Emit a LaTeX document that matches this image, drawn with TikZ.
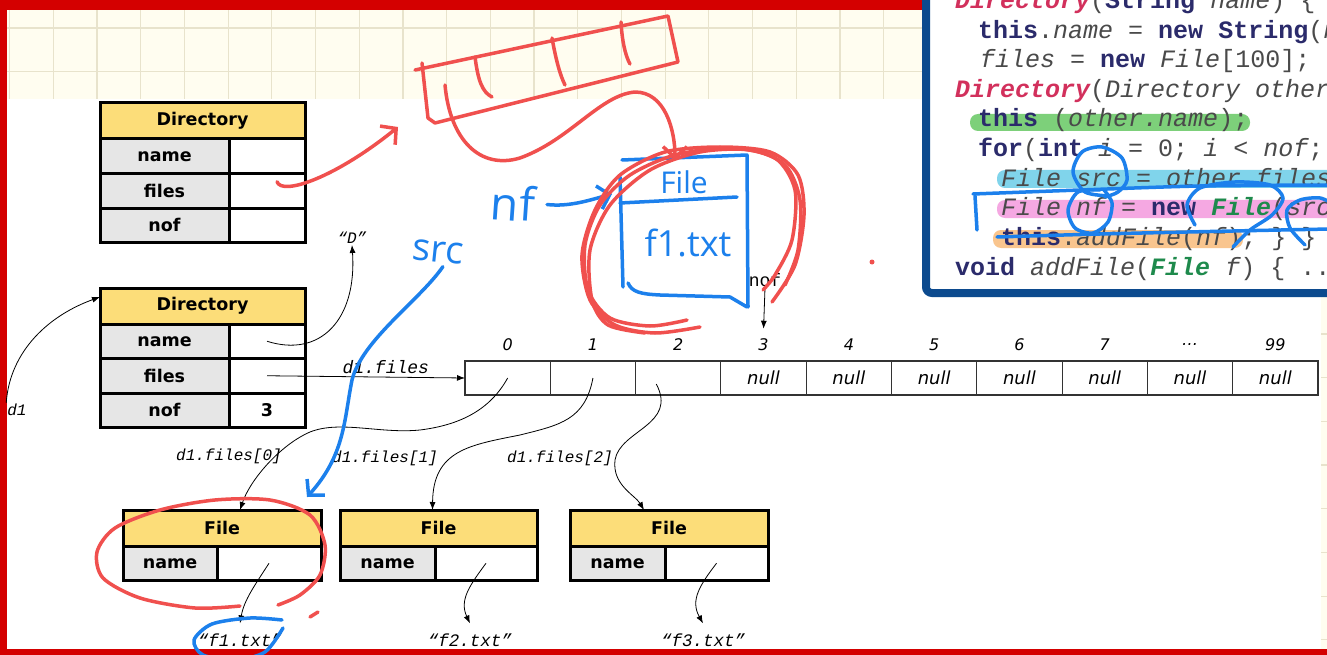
\documentclass[tikz,border=0pt]{standalone}
\usepackage{fontspec}
\setmainfont{DejaVu Sans}
\setmonofont{Liberation Mono}
\newfontfamily\handfont{Open Sans}
\usepackage{tikz}
\usetikzlibrary{arrows.meta,positioning}

\definecolor{frame}{HTML}{D40000}
\definecolor{paper}{HTML}{FFFDF0}
\definecolor{gridline}{HTML}{E8E3CC}
\definecolor{head}{HTML}{FCDD79}
\definecolor{field}{HTML}{E6E6E6}
\definecolor{inkred}{HTML}{F0504E}
\definecolor{inkblue}{HTML}{1C80EC}
\definecolor{panel}{HTML}{0C4A8E}
\definecolor{kwcol}{HTML}{2B2B6B}
\definecolor{ctorcol}{HTML}{D2305C}
\definecolor{typecol}{HTML}{1E8A4C}
\definecolor{varcol}{HTML}{4A4A4A}
\definecolor{hlgreen}{HTML}{7DD07A}
\definecolor{hlblue}{HTML}{80D4EB}
\definecolor{hlpink}{HTML}{F5A8E2}
\definecolor{hlorange}{HTML}{F9C58E}

\newcommand{\codekw}[1]{\textcolor{kwcol}{\bfseries #1}}
\newcommand{\codector}[1]{\textcolor{ctorcol}{\bfseries\itshape #1}}
\newcommand{\codetype}[1]{\textcolor{typecol}{\bfseries\itshape #1}}
\newcommand{\codevar}[1]{\textcolor{varcol}{\itshape #1}}

\begin{document}
\begin{tikzpicture}[
  x=1pt, y=-1pt,
  hdr/.style={draw, line width=3pt, fill=head, outer sep=0pt, inner sep=0pt, minimum height=36pt, font=\bfseries\fontsize{17.5}{18}\selectfont},
  fld/.style={draw, line width=3pt, fill=field, outer sep=0pt, inner sep=0pt, minimum height=34.5pt, font=\bfseries\fontsize{17.5}{18}\selectfont},
  val/.style={fld, fill=white},
  slot/.style={draw=black!80, line width=1.1pt, outer sep=0pt, inner sep=0pt, minimum width=85.3pt, minimum height=34pt, font=\itshape\fontsize{18}{18}\selectfont},
  idx/.style={font=\itshape\fontsize{16}{16}\selectfont, inner sep=1pt},
  lbl/.style={font=\ttfamily\itshape\fontsize{16}{16}\selectfont, inner sep=1pt},
  ptr/.style={-{Latex[length=8pt,width=6pt]}, line width=0.8pt},
  redink/.style={draw=inkred, line width=3.5pt, line cap=round, line join=round},
  blueink/.style={draw=inkblue, line width=3.5pt, line cap=round, line join=round},
  barb/.style={-{Straight Barb[length=11pt,width=24pt,line width=3.5pt]}},
  hand/.style={text=inkblue, inner sep=0pt, font=\handfont},
  codeline/.style={anchor=base west, inner sep=0pt, text=varcol, font=\ttfamily\fontsize{25}{25}\selectfont}
]
\clip (0,0) rectangle (1327,655);

% paper, grid and frame
\fill[paper] (0,0) rectangle (1327,655);
\foreach \gx in {9.6,53.3,...,1327} \draw[gridline, line width=1.2pt] (\gx,0) -- (\gx,655);
\foreach \gy in {28,71.7,...,655} \draw[gridline, line width=1.2pt] (0,\gy) -- (1327,\gy);
\fill[white] (7,99) rectangle (1321,649);
\fill[frame] (0,0) rectangle (1327,10);
\fill[frame] (0,0) rectangle (7,655);
\fill[frame] (0,649) rectangle (1327,655);

% directory objects
\node[hdr, minimum width=205pt] (dirA) at (202.5,121) {Directory};
\node[fld, minimum width=129pt, below right=0pt and 0pt of dirA.south west] (dirAname) {name};
\node[val, minimum width=76pt, right=0pt of dirAname] (dirAnameV) {};
\node[fld, minimum width=129pt, below=0pt of dirAname] (dirAfiles) {files};
\node[val, minimum width=76pt, right=0pt of dirAfiles] (dirAfilesV) {};
\node[fld, minimum width=129pt, below=0pt of dirAfiles] (dirAnof) {nof};
\node[val, minimum width=76pt, right=0pt of dirAnof] (dirAnofV) {};

\node[hdr, minimum width=205pt] (dirB) at (202.5,306) {Directory};
\node[fld, minimum width=129pt, below right=0pt and 0pt of dirB.south west] (dirBname) {name};
\node[val, minimum width=76pt, right=0pt of dirBname] (dirBnameV) {};
\node[fld, minimum width=129pt, below=0pt of dirBname] (dirBfiles) {files};
\node[val, minimum width=76pt, right=0pt of dirBfiles] (dirBfilesV) {};
\node[fld, minimum width=129pt, below=0pt of dirBfiles] (dirBnof) {nof};
\node[val, minimum width=76pt, right=0pt of dirBnof] (dirBnofV) {3};

% the files array
\foreach \i/\t in {0/0,1/1,2/2,3/3,4/4,5/5,6/6,7/7,8/…,9/99} {
  \node[slot] (cell\i) at ({507.65+85.3*\i},378) {};
  \node[idx] (idx\i) at ({507.65+85.3*\i},345) {\t};
}
\foreach \i in {3,...,9} \node[font=\itshape\fontsize{18}{18}\selectfont] (null\i) at (cell\i) {null};

% file objects
\node[hdr, minimum width=198pt] (fileA) at (222,528) {File};
\node[fld, minimum width=94pt, below right=0pt and 0pt of fileA.south west] (fileAname) {name};
\node[val, minimum width=104pt, right=0pt of fileAname] (fileAnameV) {};
\node[hdr, minimum width=197pt] (fileB) at (438.5,528) {File};
\node[fld, minimum width=95pt, below right=0pt and 0pt of fileB.south west] (fileBname) {name};
\node[val, minimum width=102pt, right=0pt of fileBname] (fileBnameV) {};
\node[hdr, minimum width=198pt] (fileC) at (669,528) {File};
\node[fld, minimum width=95pt, below right=0pt and 0pt of fileC.south west] (fileCname) {name};
\node[val, minimum width=103pt, right=0pt of fileCname] (fileCnameV) {};

\node[lbl] (dref) at (17,410) {d1};
\node[lbl] (dstr) at (352,238) {“D”};
\node[font=\ttfamily\fontsize{18}{18}\selectfont, inner sep=1pt] (nofref) at (765,280) {nof};
\node[lbl] (ref0) at (229,456) {d1.files[0]};
\node[lbl] (ref1) at (385,458) {d1.files[1]};
\node[lbl] (ref2) at (560,458) {d1.files[2]};
\node[lbl, font=\ttfamily\itshape\fontsize{17.5}{18}\selectfont] (strA) at (240,640) {“f1.txt”};
\node[lbl, font=\ttfamily\itshape\fontsize{17.5}{18}\selectfont] (strB) at (470,640) {“f2.txt”};
\node[lbl, font=\ttfamily\itshape\fontsize{17.5}{18}\selectfont] (strC) at (703,640) {“f3.txt”};

\draw[ptr] (dref.north west) .. controls (10,350) and (50,315) .. ([yshift=-9pt]dirB.north west);
\draw[ptr] (dirBnameV.center) .. controls (320,358) and (357,320) .. (dstr.south);
\draw[ptr] (dirBfilesV.center) -- node[pos=0.6, above, font=\ttfamily\itshape\fontsize{18}{18}\selectfont] {d1.files} (cell0.west);
\draw[ptr] (nofref.south) -- ([yshift=9pt]idx3.north);
\draw[ptr] (cell0.center) .. controls (490,410) and (460,425) .. (420,430) .. controls (380,434) and (340,420) .. (310,432) .. controls (280,445) and (250,480) .. ([xshift=18pt]fileA.north);
\draw[ptr] (cell1.center) .. controls (585,420) and (560,425) .. (520,435) .. controls (470,445) and (433,450) .. ([xshift=-6pt]fileB.north);
\draw[ptr] ([xshift=-22pt,yshift=-6pt]cell2.center) .. controls (678,425) and (620,430) .. (615,460) .. controls (612,485) and (635,495) .. ([xshift=-25pt]fileC.north);
\draw[ptr] (fileAnameV.center) .. controls (255,585) and (244,600) .. ([yshift=9pt]strA.north);
\draw[ptr] (fileBnameV.center) .. controls (470,585) and (459,600) .. ([yshift=9pt]strB.north);
\draw[ptr] (fileCnameV.center) .. controls (700,585) and (690,600) .. ([yshift=9pt]strC.north);

% code panel
\draw[draw=panel, fill=white, line width=8pt, rounded corners=6pt] (926,-30) rectangle (1360,293);
\fill[hlgreen, rounded corners=8pt] (970,114) rectangle (1250,131);
\fill[hlblue, rounded corners=8pt] (997,170) rectangle (1345,188);
\fill[hlpink, rounded corners=8pt] (997,200) rectangle (1345,218);
\fill[hlorange, rounded corners=8pt] (993,230) rectangle (1243,248);
\node[codeline] (ln1) at (955,9) {\codector{Directory}(\codekw{String} \codevar{name}) \{};
\node[codeline] (ln2) at (978,38.5) {\codekw{this}.\codevar{name} = \codekw{new} \codekw{String}(\codevar{name});};
\node[codeline] (ln3) at (980,68) {\codevar{files} = \codekw{new} \codevar{File}[100]; \}};
\node[codeline] (ln4) at (955,97.5) {\codector{Directory}(\codevar{Directory other}) \{};
\node[codeline] (ln5) at (978,127) {\codekw{this} (\codevar{other.name});};
\node[codeline] (ln6) at (978,156.5) {\codekw{for}(\codekw{int} \codevar{i} = 0; \codevar{i} < \codevar{nof}; \codevar{i}++) \{};
\node[codeline] (ln7) at (1001,186) {\codevar{File src} = \codevar{other.files}[\codevar{i}];};
\node[codeline] (ln8) at (1001,215.5) {\codevar{File nf} = \codekw{new} \codetype{File}(\codevar{src});};
\node[codeline] (ln9) at (1001,245) {\codekw{this}.\codevar{addFile}(\codevar{nf}); \} \}};
\node[codeline] (ln10) at (955,275) {\codekw{void} \codevar{addFile}(\codetype{File} \codevar{f}) \{ ...};

% blue pen
\draw[blueink] plot[smooth] coordinates {(1110,196) (1085,192) (1073,172) (1082,152) (1102,147) (1122,158) (1127,180) (1118,192) (1105,197)};
\draw[blueink] plot[smooth] coordinates {(1100,190) (1078,192) (1068,210) (1075,228) (1093,233) (1108,222) (1112,203) (1104,190)};
\draw[blueink] plot[smooth] coordinates {(1195,225) (1187,205) (1200,188) (1235,182) (1270,185) (1283,198) (1272,215) (1250,230) (1233,247)};
\draw[blueink] plot[smooth] coordinates {(1305,245) (1290,228) (1287,210) (1300,200) (1320,198) (1335,205)};
\draw[blueink] plot[smooth] coordinates {(973,194) (1080,190) (1200,186) (1330,185)};
\draw[blueink] (975,196) -- (977,230);
\draw[blueink] plot[smooth] coordinates {(997,237) (1100,234) (1233,231) (1330,229)};

\node[hand, rotate=-6, font=\handfont\fontsize{38}{38}\selectfont] (srchand) at (438,252) {src};
\node[hand, rotate=-4, font=\handfont\fontsize{46}{46}\selectfont] (nfhand) at (513,203) {nf};
\node[hand, font=\handfont\fontsize{30}{30}\selectfont] (filehand) at (684,182) {File};
\node[hand, font=\handfont\fontsize{36}{36}\selectfont] (namehand) at (688,243) {f1.txt};
\draw[blueink] (620,177) -- (623,287);
\draw[blueink] (622,160) -- (747,155) -- (748,307);
\draw[blueink] (628,283) .. controls (632,292) and (640,294) .. (660,295) -- (730,297) -- (747,307);
\draw[blueink] (620,203) -- (737,197);
\draw[blueink, barb] ([xshift=12pt]nfhand.east) .. controls (570,207) and (590,200) .. (612,194);
\draw[blueink, barb] ([xshift=6pt,yshift=-4pt]srchand.south) .. controls (420,300) and (362,340) .. (352,380) .. controls (344,420) and (345,455) .. (307,497);
\draw[blueink] plot[smooth] coordinates {(282,620) (250,618) (212,624) (194,640) (203,655) (235,660) (265,652) (283,628)};

% red pen
\draw[redink, barb] ([shift={(10pt,9pt)}]dirAfilesV.center) .. controls (282,196) and (335,178) .. (398,127);
\draw[redink] (415,70) -- (668,16) -- (678,62) -- (435,123) -- (428,118) -- (422,63);
\draw[redink] (475,57) .. controls (478,80) and (482,92) .. (492,97);
\draw[redink] (552,38) .. controls (556,60) and (560,75) .. (565,85);
\draw[redink] (621,22) .. controls (622,40) and (625,55) .. (630,64);
\draw[redink, barb] (445,85) .. controls (450,140) and (480,170) .. (520,158) .. controls (570,140) and (600,95) .. (635,92) .. controls (665,92) and (675,130) .. (675,160);
\draw[redink] plot[smooth] coordinates {(687,320) (650,326) (610,318) (588,290) (585,245) (600,205) (630,175) (675,155) (730,148) (775,158) (795,190) (792,240) (775,275) (763,290)};
\draw[redink] plot[smooth] coordinates {(700,327) (655,333) (615,325) (590,300) (582,255) (595,210) (620,175) (665,152) (720,147) (770,152) (798,175) (804,215) (795,265) (772,302)};
\draw[redink] plot[smooth] coordinates {(645,333) (608,325) (592,300) (590,250) (610,205) (650,170) (700,152) (750,150) (785,165) (800,200) (798,250) (785,285)};
\draw[redink] plot[smooth] coordinates {(240,606) (195,608) (140,598) (103,578) (97,552) (115,528) (160,510) (215,500) (270,500) (310,515) (325,545) (320,575) (300,595) (278,605)};
\draw[redink] (310,617) -- (318,612);
\fill[inkred] (872,262) circle (2.5);
\end{tikzpicture}
\end{document}
